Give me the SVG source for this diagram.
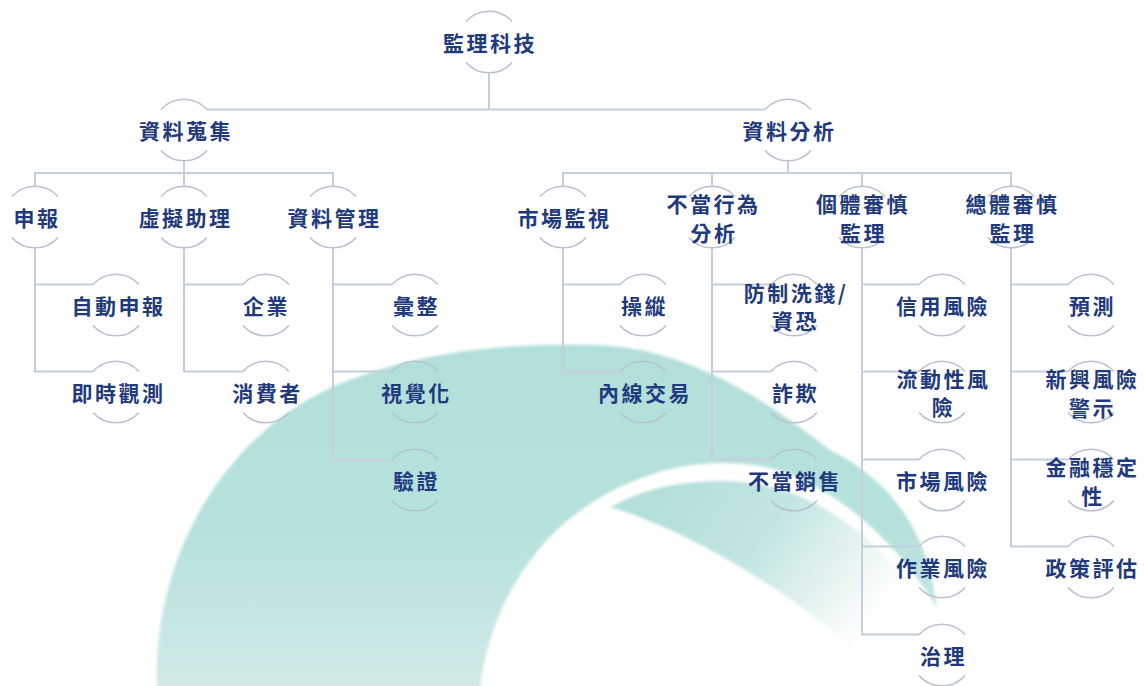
<svg xmlns="http://www.w3.org/2000/svg" xmlns:xlink="http://www.w3.org/1999/xlink" width="1147" height="686" viewBox="0 0 1147 686">
<style>
.t{font-family:"Noto Sans CJK TC","Noto Sans CJK SC",sans-serif;font-size:21px;font-weight:600;fill:#1f3a7d;text-anchor:middle;dominant-baseline:central;letter-spacing:2.5px}
.c{fill:none;stroke:#c5cedc;stroke-width:2}
.r{fill:none;stroke:#b9c1cf;stroke-width:1.6}
</style>
<defs>
<linearGradient id="gBig" x1="0" y1="345" x2="0" y2="686" gradientUnits="userSpaceOnUse">
<stop offset="0" stop-color="#b2dfda"/>
<stop offset="0.55" stop-color="#b6e2dd"/>
<stop offset="1" stop-color="#d2e9e7"/>
</linearGradient>
<linearGradient id="gCres" x1="660" y1="490" x2="860" y2="640" gradientUnits="userSpaceOnUse">
<stop offset="0" stop-color="#b3dfda"/>
<stop offset="0.45" stop-color="#c3e5e1"/>
<stop offset="1" stop-color="#ffffff"/>
</linearGradient>
<filter id="soft" x="-5%" y="-5%" width="110%" height="110%"><feGaussianBlur stdDeviation="1.6"/></filter>
<path id="ring" class="r" d="M-23,-20.5 A30.8,30.8 0 0 1 23,-20.5 M-23,20.5 A30.8,30.8 0 0 0 23,20.5"/>
</defs>
<rect width="1147" height="686" fill="#ffffff"/>
<g id="background" filter="url(#soft)">
<path fill="url(#gBig)" d="M157,690 C152,560 220,440 330,388 C420,348 520,343 590,345 C680,345 760,395 830,450 C890,480 928,530 937,608 C915,570 870,515 811,484 C780,467 750,463 721,463 C650,463 580,500 540,548 C505,590 485,640 480,690 Z"/>
<path fill="url(#gCres)" d="M611,507 C650,484 710,476 757,484 C820,494 880,540 920,600 C900,640 870,660 855,650 C800,600 700,535 611,507 Z"/>
</g>
<g id="connectors">
<path class="c" d="M489,72 V109.5 M207,109.5 H765"/>
<path class="c" d="M184,161 V173 M35,186.2 V173 H333 V186.2 M184,173 V186.2"/>
<path class="c" d="M788,161 V173 M563,186.2 V173 H1011 V186.2 M712,173 V186.2 M862,173 V186.2"/>
<path class="c" d="M35,248 V371.5 H93 M35,284.5 H93"/>
<path class="c" d="M184,248 V371.5 H243 M184,284.5 H243"/>
<path class="c" d="M333,248 V459.5 H392 M333,284.5 H392 M333,371.5 H392"/>
<path class="c" d="M563,248 V371.5 H620 M563,284.5 H620"/>
<path class="c" d="M712,248 V459.5 H771 M712,284.5 H771 M712,371.5 H771"/>
<path class="c" d="M862,248 V634.5 H919 M862,284.5 H919 M862,371.5 H919 M862,459.5 H919 M862,546.5 H919"/>
<path class="c" d="M1011,248 V546.5 H1068 M1011,284.5 H1068 M1011,371.5 H1068 M1011,459.5 H1068"/>
</g>
<g id="n-root"><use xlink:href="#ring" x="489" y="42"/><text class="t" x="490" y="42">監理科技</text></g>
<g id="n-collect"><use xlink:href="#ring" x="184" y="130"/><text class="t" x="186" y="130">資料蒐集</text></g>
<g id="n-analysis"><use xlink:href="#ring" x="788" y="130"/><text class="t" x="789.5" y="130">資料分析</text></g>
<g id="n-report"><use xlink:href="#ring" x="35" y="217"/><text class="t" x="37" y="217">申報</text></g>
<g id="n-assist"><use xlink:href="#ring" x="184" y="217"/><text class="t" x="185.5" y="217">虛擬助理</text></g>
<g id="n-datamgmt"><use xlink:href="#ring" x="333" y="217"/><text class="t" x="334.5" y="217">資料管理</text></g>
<g id="n-market"><use xlink:href="#ring" x="563" y="217"/><text class="t" x="564.5" y="217">市場監視</text></g>
<g id="n-misconduct"><use xlink:href="#ring" x="712" y="217"/><text class="t" x="713.5" y="203">不當行為</text><text class="t" x="714" y="231.5">分析</text></g>
<g id="n-micro"><use xlink:href="#ring" x="862" y="217"/><text class="t" x="863" y="203">個體審慎</text><text class="t" x="863.5" y="231.5">監理</text></g>
<g id="n-macro"><use xlink:href="#ring" x="1011" y="217"/><text class="t" x="1012.5" y="203">總體審慎</text><text class="t" x="1013" y="231.5">監理</text></g>
<g id="n-auto"><use xlink:href="#ring" x="116" y="305"/><text class="t" x="118.5" y="305">自動申報</text></g>
<g id="n-realtime"><use xlink:href="#ring" x="116" y="392"/><text class="t" x="118.5" y="392">即時觀測</text></g>
<g id="n-firm"><use xlink:href="#ring" x="266" y="305"/><text class="t" x="266.5" y="305">企業</text></g>
<g id="n-consumer"><use xlink:href="#ring" x="266" y="392"/><text class="t" x="267.5" y="392">消費者</text></g>
<g id="n-aggregate"><use xlink:href="#ring" x="415" y="305"/><text class="t" x="416.5" y="305">彙整</text></g>
<g id="n-visual"><use xlink:href="#ring" x="415" y="392"/><text class="t" x="416.5" y="392">視覺化</text></g>
<g id="n-verify"><use xlink:href="#ring" x="415" y="480"/><text class="t" x="416.5" y="480">驗證</text></g>
<g id="n-manip"><use xlink:href="#ring" x="643" y="305"/><text class="t" x="644.5" y="305">操縱</text></g>
<g id="n-insider"><use xlink:href="#ring" x="643" y="392"/><text class="t" x="645" y="392">內線交易</text></g>
<g id="n-aml"><use xlink:href="#ring" x="794" y="305"/><text class="t" x="796" y="292">防制洗錢/</text><text class="t" x="795.5" y="320">資恐</text></g>
<g id="n-fraud"><use xlink:href="#ring" x="794" y="392"/><text class="t" x="795.5" y="392">詐欺</text></g>
<g id="n-missell"><use xlink:href="#ring" x="794" y="480"/><text class="t" x="795" y="480">不當銷售</text></g>
<g id="n-credit"><use xlink:href="#ring" x="942" y="305"/><text class="t" x="943" y="305">信用風險</text></g>
<g id="n-liquidity"><use xlink:href="#ring" x="942" y="392"/><text class="t" x="943.5" y="378">流動性風</text><text class="t" x="943.5" y="406">險</text></g>
<g id="n-mktrisk"><use xlink:href="#ring" x="942" y="480"/><text class="t" x="943" y="480">市場風險</text></g>
<g id="n-oprisk"><use xlink:href="#ring" x="942" y="567"/><text class="t" x="943" y="567">作業風險</text></g>
<g id="n-gov"><use xlink:href="#ring" x="942" y="655"/><text class="t" x="943.5" y="655">治理</text></g>
<g id="n-forecast"><use xlink:href="#ring" x="1091" y="305"/><text class="t" x="1092.5" y="305">預測</text></g>
<g id="n-emerging"><use xlink:href="#ring" x="1091" y="392"/><text class="t" x="1092.5" y="378">新興風險</text><text class="t" x="1092.5" y="407">警示</text></g>
<g id="n-stability"><use xlink:href="#ring" x="1091" y="480"/><text class="t" x="1092.5" y="465.5">金融穩定</text><text class="t" x="1093" y="494.5">性</text></g>
<g id="n-policy"><use xlink:href="#ring" x="1091" y="567"/><text class="t" x="1092.5" y="567">政策評估</text></g>
</svg>
